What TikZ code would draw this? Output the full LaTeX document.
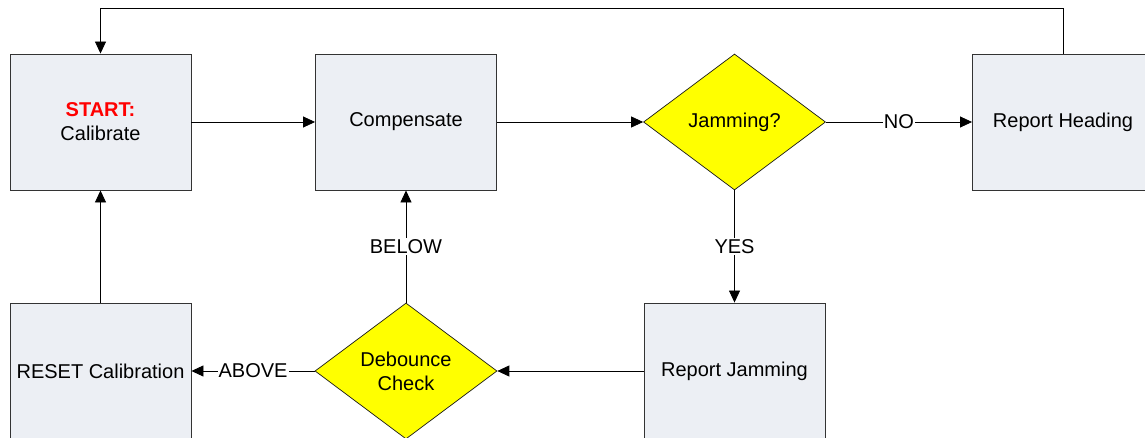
\documentclass[tikz,border=0pt]{standalone}
\usepackage{fontspec}
\setmainfont{Liberation Sans}
\usetikzlibrary{shapes.geometric,arrows.meta}
\definecolor{boxfill}{HTML}{ECEFF4}
\definecolor{diafill}{HTML}{FFFF00}
\begin{document}
\begin{tikzpicture}[x=1pt,y=-1pt,
  every node/.style={font=\fontsize{20}{24}\selectfont},
  procbox/.style={draw=black!80,fill=boxfill,line width=0.9pt,minimum width=181pt,minimum height=136pt,inner sep=0pt,align=center,anchor=center},
  decision/.style={diamond,draw=black!90,fill=diafill,line width=0.7pt,minimum width=182pt,minimum height=136pt,inner sep=0pt,align=center},
  conn/.style={draw=black,line width=0.8pt,-{Triangle[length=12pt,width=11pt]}},
  lbl/.style={fill=white,inner sep=1pt}]
\useasboundingbox (0,0) rectangle (1145,438);
\clip (0,0) rectangle (1145,438);
\node[procbox] (cal) at (100.5,122) {\textcolor{red}{\textbf{START:}}\\Calibrate};
\node[procbox] (comp) at (406,122) {Compensate};
\node[decision] (jam) at (734.5,122) {Jamming?};
\node[procbox] (rh) at (1063,122) {Report Heading};
\node[procbox] (rj) at (734.5,371) {Report Jamming};
\node[decision] (deb) at (406,371) {Debounce\\Check};
\node[procbox] (reset) at (100.5,371) {RESET Calibration};
\coordinate (tr) at (1063,8);
\coordinate (tl) at (100.5,8);
\draw[conn] (cal.east) -- (comp.west);
\draw[conn] (comp.east) -- (jam.west);
\draw[conn] (jam.east) -- node[lbl] {NO} (rh.west);
\draw[conn] (jam.south) -- node[lbl] {YES} (rj.north);
\draw[conn] (rj.west) -- (deb.east);
\draw[conn] (deb.north) -- node[lbl] {BELOW} (comp.south);
\draw[conn] (deb.west) -- node[lbl] {ABOVE} (reset.east);
\draw[conn] (reset.north) -- (cal.south);
\draw[conn] (rh.north) -- (tr) -- (tl) -- (cal.north);
\end{tikzpicture}
\end{document}
